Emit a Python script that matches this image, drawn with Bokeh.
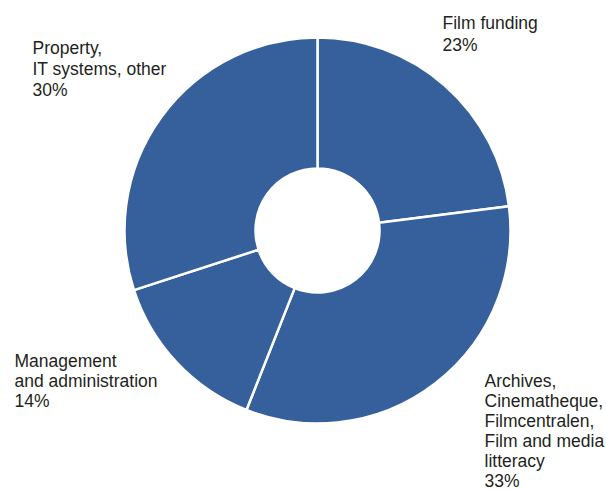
import math
from bokeh.plotting import figure
from bokeh.models import Range1d, ColumnDataSource
from bokeh.core.properties import value
from bokeh.embed import file_html
from bokeh.resources import INLINE

# ---- data ----
categories = ["Film funding",
              "Archives,\nCinematheque,\nFilmcentralen,\nFilm and media\nlitteracy",
              "Management\nand administration",
              "Property,\nIT systems, other"]
shares = [23, 33, 14, 30]

# ---- layout (page pixel coords: x right, y down) ----
W, H = 606, 490
cx, cy = 317, 230
r_out, r_in = 193, 62
label_pos = [(442, 12), (484, 370), (14, 350), (32, 37)]
label_lh = [1.12, 1.0, 1.0, 1.06]

def Y(y):  # page y -> data y
    return H - y

p = figure(width=W, height=H, output_backend="svg", toolbar_location=None,
           x_range=Range1d(0, W), y_range=Range1d(0, H),
           min_border=0, outline_line_color=None)
p.axis.visible = False
p.grid.visible = False
p.background_fill_color = "white"
p.border_fill_color = "white"

total = sum(shares)
starts, ends = [], []
cum = 0
for v in shares:
    starts.append(math.pi / 2 - 2 * math.pi * cum / total)
    cum += v
    ends.append(math.pi / 2 - 2 * math.pi * cum / total)

src = ColumnDataSource(dict(x=[cx] * len(shares), y=[Y(cy)] * len(shares),
                            start=starts, end=ends))
p.annular_wedge(x="x", y="y", inner_radius=r_in, outer_radius=r_out,
                start_angle="start", end_angle="end", direction="clock",
                fill_color="#36609c", line_color="white", line_width=2.5,
                source=src)

for c, v, (lx, ly), lh in zip(categories, shares, label_pos, label_lh):
    p.text(x=[lx], y=[Y(ly)], text=[f"{c}\n{v}%"],
           text_font=value("Liberation Sans"), text_font_size="17.5px",
           text_color="#231f20", text_baseline="top", text_align="left",
           text_line_height=lh)

open("out.html", "w").write(file_html(p, INLINE))
